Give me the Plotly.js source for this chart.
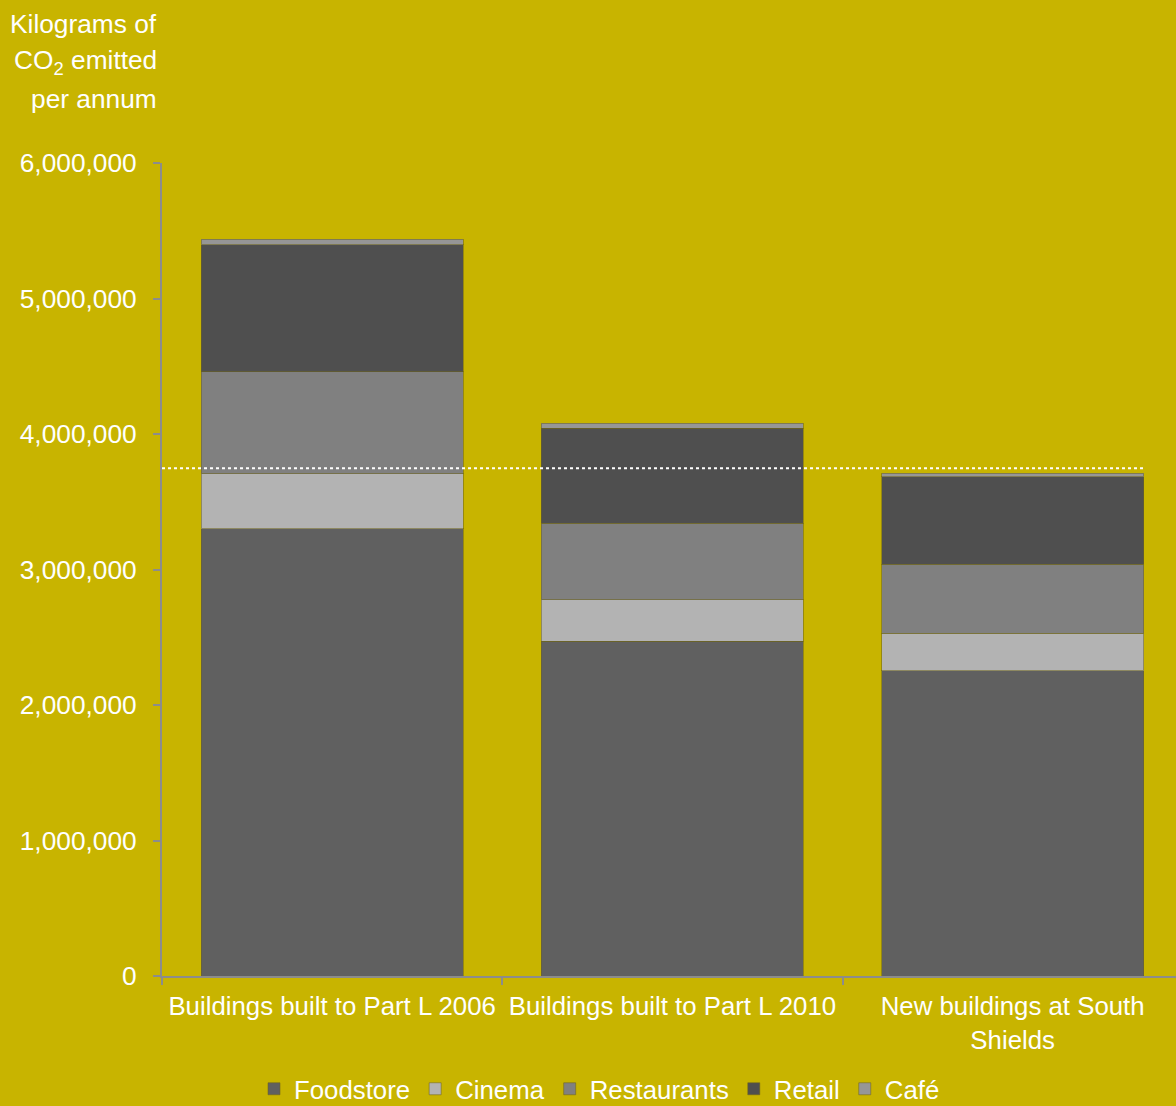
<!DOCTYPE html>
<html>
<head>
<meta charset="utf-8">
<script src="https://cdn.plot.ly/plotly-3.0.1.min.js"></script>
<style>
  html, body { margin: 0; padding: 0; background: #C8B400; }
  #chart { width: 1176px; height: 1106px; }
</style>
</head>
<body>
<div id="chart"></div>
<script>
// ---- data ----
const categories = [
  "Buildings built to Part L 2006",
  "Buildings built to Part L 2010",
  "New buildings at South<br>Shields"
];
const foodstore   = [3300000, 2472000, 2251000];
const cinema      = [405000, 303000, 280000];
const restaurants = [753000, 568000, 507000];
const retail      = [937000, 701000, 647000];
const cafe        = [42000, 35000, 27000];
const benchmark   = 3747000;
const yTickVals   = [0, 1000000, 2000000, 3000000, 4000000, 5000000, 6000000];
const yTickText   = ["0", "1,000,000", "2,000,000", "3,000,000", "4,000,000", "5,000,000", "6,000,000"];

const FONT = "Arial, 'Liberation Sans', sans-serif";
const BG = "#C8B400";
const AXIS = "#8c8c8c";
const FS = 26.3;
const edge = { color: "rgba(110,100,30,0.55)", width: 1 };

function series(name, y, color) {
  return { type: "bar", name: name, x: categories, y: y, width: 0.77,
           marker: { color: color, line: edge }, hoverinfo: "none" };
}

const data = [
  series("Foodstore", foodstore, "#606060"),
  series("Cinema", cinema, "#b3b3b3"),
  series("Restaurants", restaurants, "#808080"),
  series("Retail", retail, "#4f4f4f"),
  series("Café", cafe, "#969696")
];

const py = p => (976 - p) / 813;
const px = p => (p - 162) / 1014;

const layout = {
  width: 1176, height: 1106,
  paper_bgcolor: BG, plot_bgcolor: BG,
  margin: { l: 162, r: 0, t: 163, b: 130, autoexpand: false },
  barmode: "stack",
  font: { family: FONT, color: "#ffffff", size: FS },
  showlegend: true,
  legend: {
    orientation: "h", x: px(254), xanchor: "left", y: py(1089), yanchor: "middle",
    font: { family: FONT, size: 25.8, color: "#ffffff" },
    traceorder: "normal", bgcolor: "rgba(0,0,0,0)", itemwidth: 30
  },
  xaxis: {
    type: "category", range: [-0.5, 2.48], tickangle: 0,
    showline: true, linecolor: AXIS, linewidth: 2,
    ticks: "outside", tickson: "boundaries", ticklen: 7, tickcolor: AXIS, tickwidth: 2,
    showgrid: false, zeroline: false, ticklabelstandoff: 6,
    tickfont: { family: FONT, size: 25.8, color: "#ffffff" }
  },
  yaxis: {
    range: [0, 6000000], tickmode: "array", tickvals: yTickVals, ticktext: yTickText,
    showline: true, linecolor: AXIS, linewidth: 2,
    ticks: "outside", ticklen: 7, tickcolor: AXIS, tickwidth: 2,
    showgrid: false, zeroline: false, ticklabelstandoff: 11,
    tickfont: { family: FONT, size: FS, color: "#ffffff" }
  },
  shapes: [{
    type: "line", xref: "x", yref: "y", x0: -0.5, x1: 2.385, y0: benchmark, y1: benchmark,
    line: { color: "#ffffff", width: 2, dash: "dot" }
  }],
  annotations: [
    { text: "Kilograms of", xref: "paper", yref: "paper", x: px(159), y: py(24), xanchor: "right", yanchor: "middle", showarrow: false, font: { family: FONT, size: FS, color: "#fff" } },
    { text: "CO<sub>2</sub> emitted", xref: "paper", yref: "paper", x: px(159), y: py(62), xanchor: "right", yanchor: "middle", showarrow: false, font: { family: FONT, size: FS, color: "#fff" } },
    { text: "per annum", xref: "paper", yref: "paper", x: px(159), y: py(99), xanchor: "right", yanchor: "middle", showarrow: false, font: { family: FONT, size: FS, color: "#fff" } }
  ]
};

Plotly.newPlot("chart", data, layout, { displayModeBar: false, staticPlot: true });
</script>
</body>
</html>
